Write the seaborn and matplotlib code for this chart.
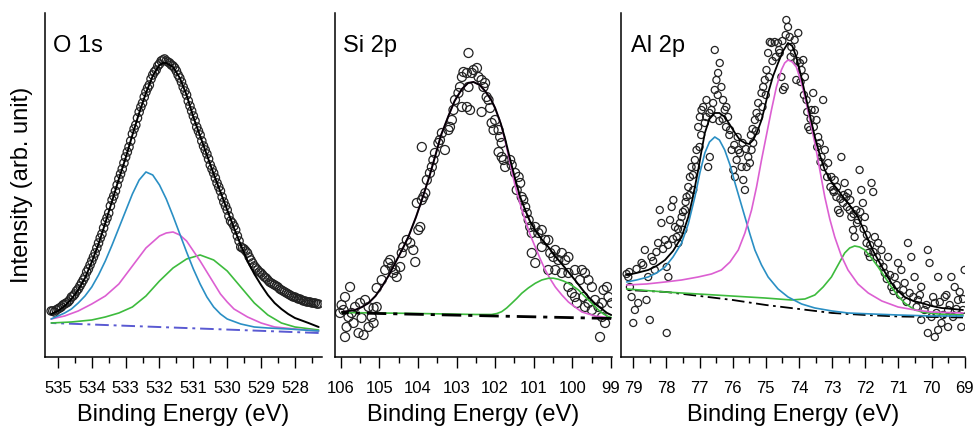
import matplotlib
matplotlib.use("Agg")
import matplotlib.pyplot as plt
import seaborn as sns
from matplotlib.ticker import MultipleLocator

# ---------------- O 1s ----------------
# measured points (binding energy, intensity)
o1s_points = [
    (535.2, 46), (535.1, 45), (535.0, 48), (534.9, 50), (534.8, 53), (534.7, 55), (534.6, 60),
    (534.5, 63), (534.4, 68), (534.3, 74), (534.2, 80), (534.1, 88), (534.0, 96), (533.9, 104),
    (533.8, 114), (533.7, 123), (533.6, 135), (533.5, 144), (533.4, 157), (533.3, 166),
    (533.2, 178), (533.1, 188), (533.0, 200), (532.9, 210), (532.8, 223), (532.7, 232),
    (532.6, 245), (532.5, 254), (532.4, 265), (532.3, 272), (532.2, 282), (532.1, 287),
    (532.0, 293), (531.9, 297), (531.8, 296), (531.7, 294), (531.6, 291), (531.5, 286),
    (531.4, 279), (531.3, 270), (531.2, 262), (531.1, 251), (531.0, 241), (530.9, 230),
    (530.8, 222), (530.7, 211), (530.6, 203), (530.5, 192), (530.4, 184), (530.3, 174),
    (530.2, 166), (530.1, 155), (530.0, 147), (529.9, 136), (529.8, 131), (529.7, 121),
    (529.6, 110), (529.5, 108), (529.4, 104), (529.3, 97), (529.2, 91), (529.1, 87),
    (529.0, 84), (528.9, 80), (528.8, 77), (528.7, 74), (528.6, 72), (528.5, 70), (528.4, 67),
    (528.3, 65), (528.2, 63), (528.1, 61), (528.0, 60), (527.9, 58), (527.8, 57), (527.7, 56),
    (527.6, 55), (527.5, 54), (527.4, 54), (527.3, 53),
    (535.15, 46), (535.05, 47), (534.95, 49), (534.85, 52), (534.75, 54), (534.65, 57),
    (534.55, 61), (534.45, 66), (534.35, 71), (534.25, 77), (534.15, 85), (534.05, 92),
    (533.95, 100), (533.85, 109), (533.75, 119), (533.65, 129), (533.55, 139), (533.45, 151),
    (533.35, 161), (533.25, 172), (533.15, 183), (533.05, 194), (532.95, 205), (532.85, 216),
    (532.75, 228), (532.65, 239), (532.55, 250), (532.45, 260), (532.35, 269), (532.25, 278),
    (532.15, 285), (532.05, 291), (531.95, 296), (531.85, 298), (531.75, 295), (531.65, 292),
    (531.55, 289), (531.45, 282), (531.35, 275), (531.25, 266), (531.15, 256), (531.05, 246),
    (530.95, 236), (530.85, 226), (530.75, 216), (530.65, 207), (530.55, 198), (530.45, 188),
    (530.35, 179), (530.25, 170), (530.15, 160), (530.05, 151), (529.95, 141), (529.85, 134),
    (529.75, 127), (529.65, 116), (529.55, 109), (529.45, 106), (529.35, 100), (529.25, 94),
    (529.15, 89), (529.05, 85), (528.95, 82), (528.85, 79), (528.75, 75), (528.65, 73),
    (528.55, 71), (528.45, 68), (528.35, 66), (528.25, 64), (528.15, 62), (528.05, 60),
    (527.95, 59), (527.85, 58), (527.75, 56), (527.65, 55), (527.55, 55), (527.45, 54),
    (527.35, 53),
]
o1s_envelope = [
    (535.2, 43), (535.0, 46), (534.8, 51), (534.6, 58), (534.4, 67), (534.2, 79), (534.0, 95),
    (533.8, 113), (533.6, 134), (533.4, 156), (533.2, 178), (533.0, 199), (532.8, 222),
    (532.6, 244), (532.4, 264), (532.2, 281), (532.0, 292), (531.9, 294), (531.8, 294),
    (531.6, 290), (531.4, 279), (531.2, 262), (531.0, 240), (530.8, 221), (530.6, 202),
    (530.4, 183), (530.2, 165), (530.0, 147), (529.8, 129), (529.6, 112), (529.4, 96),
    (529.2, 83), (529.0, 72), (528.8, 62), (528.6, 54), (528.4, 48), (528.2, 43), (528.0, 39),
    (527.6, 34), (527.3, 30),
]
o1s_peak_a = [
    (535.2, 38), (535.0, 41), (534.8, 44), (534.6, 48), (534.4, 54), (534.2, 61), (534.0, 70),
    (533.8, 82), (533.6, 96), (533.4, 112), (533.2, 129), (533.0, 146), (532.8, 163),
    (532.6, 177), (532.4, 185), (532.2, 182), (532.0, 172), (531.8, 158), (531.6, 141),
    (531.4, 123), (531.2, 105), (531.0, 88), (530.8, 73), (530.6, 60), (530.4, 50), (530.2, 43),
    (530.0, 38), (529.6, 33), (529.2, 30), (528.8, 29), (528.2, 28), (527.3, 26),
]
o1s_peak_b = [
    (535.2, 38), (534.8, 41), (534.4, 46), (534.0, 53), (533.6, 61), (533.2, 73), (532.8, 91),
    (532.4, 109), (532.0, 121), (531.8, 124), (531.6, 125), (531.4, 122), (531.2, 116),
    (531.0, 106), (530.8, 96), (530.6, 85), (530.4, 74), (530.2, 63), (530.0, 55), (529.8, 48),
    (529.4, 40), (529.0, 34), (528.6, 30), (528.0, 28), (527.3, 26),
]
o1s_peak_c = [
    (535.2, 34), (534.6, 35), (534.0, 37), (533.6, 40), (533.2, 44), (532.8, 50), (532.4, 61),
    (532.0, 76), (531.6, 89), (531.2, 98), (530.8, 102), (530.4, 97), (530.0, 86), (529.6, 70),
    (529.2, 54), (528.8, 42), (528.4, 34), (528.0, 30), (527.3, 27),
]
o1s_background = [(535.2, 34), (527.3, 24)]

# ---------------- Si 2p ----------------
si2p_points = [
    (105.98, 52), (105.89, 60), (105.76, 70), (105.93, 47), (105.80, 40), (105.67, 34),
    (105.54, 24), (105.41, 22), (105.28, 30), (105.15, 34), (105.85, 30), (105.63, 50),
    (105.50, 54), (105.37, 57), (105.28, 50), (105.15, 49), (105.07, 50), (106.02, 44),
    (105.72, 44), (105.46, 39), (105.20, 40), (105.89, 20), (105.07, 69), (104.94, 77),
    (104.85, 87), (104.77, 94), (104.68, 90), (104.59, 87), (104.46, 90), (104.55, 80),
    (104.64, 84), (104.72, 97), (104.38, 110), (104.29, 117), (104.20, 114), (104.12, 107),
    (104.07, 95), (104.42, 104), (103.99, 127), (103.94, 130), (104.03, 154), (103.90, 157),
    (103.86, 160), (103.81, 164), (103.77, 177), (103.69, 184), (103.64, 190), (103.60, 197),
    (103.56, 204), (103.90, 210), (103.47, 214), (103.43, 217), (103.38, 224), (103.30, 207),
    (103.21, 227), (103.17, 230), (103.12, 237), (103.08, 247), (103.04, 257), (102.95, 264),
    (102.91, 270), (102.86, 280), (102.82, 285), (102.73, 284), (102.69, 270), (102.86, 250),
    (102.73, 250), (102.65, 247), (102.69, 304), (102.60, 284), (102.56, 287), (102.47, 289),
    (102.43, 280), (102.35, 277), (102.30, 270), (102.26, 274), (102.22, 260), (102.17, 257),
    (102.35, 245), (102.13, 249), (102.09, 234), (102.04, 227), (102.00, 237), (101.91, 227),
    (101.87, 220), (101.83, 214), (101.91, 205), (101.83, 200), (101.78, 197), (101.74, 190),
    (101.61, 197), (101.57, 192), (101.48, 184), (101.39, 180), (101.44, 167), (101.35, 174),
    (101.31, 160), (101.27, 157), (101.22, 150), (101.18, 144), (101.13, 137), (101.09, 130),
    (101.05, 124), (100.96, 130), (100.88, 124), (100.79, 127), (100.70, 117), (100.62, 117),
    (101.05, 104), (100.96, 94), (100.79, 110), (100.57, 104), (100.49, 100), (100.44, 107),
    (100.36, 97), (100.27, 104), (100.18, 97), (100.10, 100), (100.62, 87), (100.44, 87),
    (100.27, 84), (100.10, 84), (99.93, 87), (100.10, 70), (100.01, 64), (99.93, 60),
    (99.75, 87), (99.67, 84), (99.58, 77), (99.49, 70), (99.80, 77), (99.71, 60), (99.58, 54),
    (99.41, 57), (99.32, 50), (99.23, 54), (99.19, 67), (99.10, 70), (99.06, 60), (98.97, 54),
    (99.23, 40), (99.15, 34), (99.28, 20), (99.49, 47), (99.67, 50), (99.88, 54),
]
si2p_envelope = [
    (105.97, 45), (105.8, 46), (105.63, 47), (105.45, 50), (105.28, 54), (105.1, 61),
    (104.94, 70), (104.75, 82), (104.59, 94), (104.4, 108), (104.25, 120), (104.05, 140),
    (103.9, 157), (103.7, 181), (103.56, 200), (103.4, 222), (103.21, 241), (103.05, 256),
    (102.86, 268), (102.7, 274), (102.56, 275), (102.4, 272), (102.26, 266), (102.1, 257),
    (102.0, 249), (101.85, 233), (101.74, 218), (101.6, 196), (101.48, 178), (101.35, 160),
    (101.22, 147), (101.1, 136), (100.96, 127), (100.8, 118), (100.62, 110), (100.45, 101),
    (100.27, 93), (100.1, 85), (99.93, 77), (99.75, 68), (99.58, 60), (99.4, 53), (99.23, 48),
    (99.1, 44), (98.99, 42),
]
si2p_peak_a = [
    (105.97, 45), (105.8, 46), (105.63, 47), (105.45, 50), (105.28, 54), (105.1, 61),
    (104.94, 70), (104.75, 82), (104.59, 94), (104.4, 108), (104.25, 120), (104.05, 140),
    (103.9, 157), (103.7, 181), (103.56, 200), (103.4, 222), (103.21, 241), (103.05, 256),
    (102.86, 268), (102.7, 274), (102.56, 275), (102.4, 272), (102.26, 266), (102.1, 257),
    (102.0, 249), (101.85, 233), (101.74, 216), (101.6, 192), (101.48, 171), (101.35, 153),
    (101.22, 137), (101.1, 123), (100.96, 110), (100.83, 98), (100.7, 87), (100.57, 78),
    (100.44, 70), (100.27, 62), (100.1, 55), (99.93, 50), (99.75, 45), (99.58, 43),
    (99.41, 41), (99.2, 40), (98.99, 39),
]
si2p_peak_b = [
    (105.97, 44.5), (104.0, 43.5), (102.5, 42.5), (102.09, 42.5), (101.95, 43.5),
    (101.83, 45.3), (101.7, 49), (101.57, 53.7), (101.44, 58.5), (101.31, 63.7), (101.14, 69),
    (100.96, 73.7), (100.79, 77), (100.62, 78.7), (100.49, 78.8), (100.36, 77.7), (100.23, 76),
    (100.1, 73.7), (99.97, 70.5), (99.84, 67), (99.71, 62), (99.58, 57), (99.45, 52),
    (99.32, 47), (99.19, 43), (99.06, 40.3), (98.99, 39.5),
]
si2p_background = [(105.97, 44.3), (98.99, 38.5)]

# ---------------- Al 2p ----------------
al2p_points = [
    (79.15, 80), (79.10, 70), (79.05, 60), (78.95, 47), (79.00, 34), (78.85, 54), (78.75, 94),
    (78.65, 107), (78.60, 57), (78.55, 80), (78.50, 37), (78.45, 100), (78.35, 87),
    (78.25, 114), (78.20, 147), (78.15, 134), (78.04, 117), (77.99, 90), (77.99, 24),
    (77.94, 80), (77.89, 137), (77.84, 150), (77.79, 157), (77.74, 130), (77.69, 120),
    (77.64, 114), (77.59, 134), (77.54, 140), (77.49, 127), (77.44, 147), (77.39, 160),
    (77.34, 170), (77.29, 180), (77.24, 190), (77.19, 167), (77.14, 197), (77.09, 207),
    (77.04, 230), (76.99, 240), (76.94, 247), (76.89, 250), (76.84, 234), (76.79, 257),
    (76.74, 190), (76.69, 200), (76.64, 247), (76.59, 254), (76.54, 267), (76.49, 277),
    (76.44, 284), (76.39, 294), (76.54, 307), (76.34, 270), (76.29, 257), (76.24, 247),
    (76.19, 250), (76.14, 240), (76.08, 227), (76.03, 207), (75.98, 187), (75.93, 180),
    (75.88, 197), (75.83, 207), (75.78, 204), (75.73, 190), (75.68, 177), (75.63, 167),
    (75.58, 190), (75.53, 200), (75.48, 194), (75.43, 207), (75.38, 214), (75.33, 237),
    (75.28, 244), (75.23, 254), (75.13, 264), (75.08, 270), (75.03, 277), (74.98, 287),
    (74.93, 304), (74.88, 315), (74.83, 314), (74.73, 315), (74.63, 314), (74.58, 304),
    (74.53, 280), (74.48, 267), (74.43, 270), (74.38, 337), (74.33, 330), (74.28, 320),
    (74.23, 310), (74.13, 317), (74.08, 277), (74.02, 324), (73.97, 294), (73.92, 287),
    (73.87, 297), (73.82, 280), (73.77, 257), (73.72, 230), (73.67, 227), (73.62, 247),
    (73.57, 264), (73.52, 247), (73.47, 237), (73.42, 220), (73.37, 214), (73.32, 200),
    (73.27, 257), (73.22, 207), (73.12, 194), (73.02, 180), (72.97, 167), (72.92, 177),
    (72.87, 160), (72.82, 147), (72.77, 144), (72.72, 200), (72.67, 154), (72.62, 174),
    (72.57, 160), (72.52, 164), (72.47, 147), (72.42, 140), (72.37, 127), (72.32, 120),
    (72.27, 147), (72.22, 137), (72.17, 187), (72.12, 167), (72.07, 154), (72.01, 140),
    (71.96, 114), (71.91, 104), (71.86, 100), (71.81, 174), (71.76, 165), (71.71, 120),
    (71.61, 114), (71.56, 94), (71.51, 107), (71.41, 84), (71.31, 100), (71.21, 70),
    (71.11, 80), (71.01, 94), (70.91, 87), (70.81, 74), (70.71, 114), (70.66, 64),
    (70.61, 100), (70.51, 80), (70.41, 57), (70.31, 70), (70.21, 47), (70.11, 107),
    (70.06, 94), (70.00, 40), (69.90, 54), (69.80, 80), (69.70, 34), (69.60, 60), (69.50, 47),
    (69.40, 80), (69.30, 70), (69.20, 57), (69.10, 30), (69.05, 47), (69.00, 87), (69.50, 30),
    (69.80, 27), (69.90, 20), (70.11, 24), (70.31, 37),
    (79.20, 83), (79.12, 85), (78.90, 88), (78.70, 92), (78.40, 96), (78.30, 105),
    (78.10, 108), (77.95, 112), (77.80, 118), (77.65, 128), (77.50, 145), (77.42, 155),
    (77.30, 162), (77.20, 182), (77.10, 190), (77.00, 210), (76.95, 222), (76.80, 240),
    (76.70, 244), (76.60, 238), (76.45, 262), (76.40, 236), (76.30, 238), (76.20, 230),
    (76.10, 222), (75.95, 212), (75.85, 220), (75.70, 214), (75.60, 208), (75.45, 222),
    (75.40, 228), (75.30, 226), (75.20, 240), (75.10, 250), (75.00, 262), (74.90, 280),
    (74.80, 296), (74.70, 300), (74.60, 307), (74.50, 316), (74.40, 322), (74.25, 300),
    (74.15, 304), (74.05, 296), (73.95, 275), (73.85, 262), (73.75, 245), (73.65, 238),
    (73.55, 230), (73.45, 210), (73.35, 195), (73.25, 190), (73.15, 180), (73.05, 170),
    (72.95, 165), (72.85, 170), (72.75, 158), (72.65, 162), (72.55, 150), (72.45, 157),
    (72.35, 143), (72.25, 134), (72.15, 145), (72.05, 128), (71.95, 122), (71.85, 112),
    (71.75, 105), (71.65, 100), (71.45, 90), (71.35, 78), (71.25, 82), (71.15, 66),
    (71.05, 72), (70.95, 62), (70.85, 67), (70.75, 55), (70.55, 60), (70.45, 50), (70.35, 62),
    (70.15, 52), (69.95, 60), (69.85, 44), (69.75, 55), (69.65, 42), (69.55, 62), (69.45, 52),
    (69.35, 40), (69.25, 48), (69.15, 65), (69.05, 58),
]
al2p_envelope = [
    (79.2, 82), (78.9, 84), (78.55, 87), (78.3, 91), (78.04, 97), (77.8, 106), (77.54, 120),
    (77.34, 140), (77.2, 160), (77.04, 187), (76.94, 206), (76.84, 224), (76.7, 238),
    (76.54, 244), (76.4, 244), (76.24, 240), (76.1, 233), (75.93, 224), (75.78, 217),
    (75.63, 214), (75.5, 213), (75.38, 217), (75.25, 226), (75.13, 237), (75.03, 250),
    (74.93, 264), (74.78, 281), (74.63, 294), (74.48, 306), (74.33, 314), (74.2, 311),
    (74.08, 300), (73.95, 283), (73.82, 264), (73.67, 242), (73.52, 220), (73.37, 202),
    (73.22, 187), (73.02, 175), (72.82, 167), (72.67, 160), (72.52, 154), (72.37, 147),
    (72.22, 140), (72.07, 129), (71.91, 117), (71.76, 106), (71.61, 97), (71.41, 85),
    (71.21, 74), (71.01, 66), (70.81, 60), (70.55, 56), (70.3, 54), (70.0, 51), (69.7, 49),
    (69.35, 48), (69.05, 47),
]
al2p_peak_a = [
    (79.2, 75), (78.9, 77), (78.55, 80), (78.3, 84), (78.04, 90), (77.8, 100), (77.54, 114),
    (77.34, 133), (77.14, 160), (76.99, 184), (76.84, 204), (76.7, 215), (76.54, 220),
    (76.4, 217), (76.24, 207), (76.08, 192), (75.93, 174), (75.78, 157), (75.63, 140),
    (75.48, 123), (75.33, 107), (75.13, 92), (74.93, 80), (74.63, 68), (74.33, 60),
    (73.92, 53), (73.52, 49), (73.0, 46), (72.52, 44), (71.8, 43), (71.01, 42), (70.0, 41),
    (69.05, 41),
]
al2p_peak_b = [
    (79.2, 72), (78.6, 73), (78.04, 75), (77.54, 77), (77.04, 80), (76.64, 83), (76.34, 87),
    (76.08, 95), (75.83, 107), (75.63, 124), (75.43, 147), (75.28, 170), (75.13, 197),
    (74.98, 222), (74.83, 247), (74.68, 270), (74.53, 287), (74.43, 294), (74.33, 297),
    (74.2, 295), (74.08, 290), (73.95, 277), (73.82, 260), (73.67, 237), (73.52, 214),
    (73.37, 187), (73.22, 160), (73.07, 138), (72.92, 120), (72.72, 101), (72.52, 87),
    (72.22, 73), (71.91, 64), (71.5, 56), (71.01, 50), (70.5, 47), (70.0, 45), (69.05, 44),
]
al2p_peak_c = [
    (79.2, 68), (78.04, 65), (76.54, 62), (75.03, 59), (74.23, 57), (73.82, 58), (73.52, 62),
    (73.27, 70), (73.02, 80), (72.82, 92), (72.62, 104), (72.47, 109), (72.32, 111),
    (72.17, 110), (72.01, 107), (71.81, 99), (71.61, 90), (71.41, 80), (71.21, 70),
    (71.01, 61), (70.81, 54), (70.55, 48), (70.3, 45), (69.8, 43), (69.05, 42),
]
al2p_background = [
    (79.2, 67), (78.0, 65), (77.0, 61), (76.0, 57), (75.0, 52), (74.0, 48), (73.0, 44),
    (72.0, 42), (71.0, 40.5), (70.0, 40), (69.05, 39.5),
]

# panel titles and axis ranges
panel_titles = ["O 1s", "Si 2p", "Al 2p"]
panel_xlims = [(535.38, 527.2), (106.15, 98.97), (79.37, 68.99)]

# colours of the fit components
BLUE = "#2a8fc4"
MAGENTA = "#dc5fd2"
GREEN = "#3dbb3d"
DASHDOT = (0, (7, 2.5, 1.5, 2.5))


def draw_curve(ax, pairs, color, lw, ls="-"):
    # unpack list of (energy, intensity) and draw it as a line
    x, y = zip(*pairs)
    sns.lineplot(x=list(x), y=list(y), ax=ax, color=color, lw=lw, linestyle=ls,
                 estimator=None, sort=True)


def draw_points(ax, pairs, size):
    # open circles for the measured spectrum
    x, y = zip(*pairs)
    sns.scatterplot(x=list(x), y=list(y), ax=ax, s=size, marker="o",
                    fc="none", ec="#222222", linewidth=0.9, zorder=1)


def style_axis(ax, title, xlim):
    # limits, ticks and spines
    ax.set_xlim(*xlim)
    ax.set_ylim(0, 344)
    ax.xaxis.set_major_locator(MultipleLocator(1))
    ax.xaxis.set_minor_locator(MultipleLocator(0.5))
    ax.tick_params(axis="x", which="major", direction="out", length=8, width=1.0,
                   labelsize=12, pad=9, color="black", labelcolor="black")
    ax.tick_params(axis="x", which="minor", direction="out", length=4.5, width=1.0,
                   color="black")
    ax.set_yticks([])
    ax.spines["top"].set_visible(False)
    ax.spines["right"].set_visible(False)
    for side in ["left", "bottom"]:
        ax.spines[side].set_linewidth(1.1)
        ax.spines[side].set_color("black")
    ax.set_xlabel("Binding Energy (eV)", fontsize=17, labelpad=6, color="black")
    ax.set_ylabel("")
    ax.text(0.03, 0.905, title, transform=ax.transAxes, fontsize=17, va="center",
            ha="left", color="black")


def main():
    # set theme, then font (theme resets font family)
    sns.set_theme(style="ticks")
    plt.rcParams["font.family"] = ["Liberation Sans", "DejaVu Sans"]
    plt.rcParams["text.color"] = "black"
    plt.rcParams["axes.labelcolor"] = "black"

    fig = plt.figure(figsize=(9.77, 4.3), dpi=100)
    ax1 = fig.add_axes([0.0461, 0.1698, 0.2835, 0.8])
    ax2 = fig.add_axes([0.3429, 0.1698, 0.2835, 0.8])
    ax3 = fig.add_axes([0.6356, 0.1698, 0.3521, 0.8])

    # O 1s panel
    draw_points(ax1, o1s_points, 36)
    draw_curve(ax1, o1s_background, "#5a5ad2", 1.4, DASHDOT)
    draw_curve(ax1, o1s_peak_c, GREEN, 1.2)
    draw_curve(ax1, o1s_peak_b, MAGENTA, 1.2)
    draw_curve(ax1, o1s_peak_a, BLUE, 1.2)
    draw_curve(ax1, o1s_envelope, "black", 1.4)

    # Si 2p panel
    draw_points(ax2, si2p_points, 42)
    draw_curve(ax2, si2p_peak_a, MAGENTA, 1.2)
    draw_curve(ax2, si2p_peak_b, GREEN, 1.2)
    draw_curve(ax2, si2p_background, "black", 2.0, DASHDOT)
    draw_curve(ax2, si2p_envelope, "black", 1.4)

    # Al 2p panel
    draw_points(ax3, al2p_points, 26)
    draw_curve(ax3, al2p_background, "black", 1.3, DASHDOT)
    draw_curve(ax3, al2p_peak_c, GREEN, 1.2)
    draw_curve(ax3, al2p_peak_a, BLUE, 1.2)
    draw_curve(ax3, al2p_peak_b, MAGENTA, 1.2)
    draw_curve(ax3, al2p_envelope, "black", 1.3)

    for ax, title, xlim in zip([ax1, ax2, ax3], panel_titles, panel_xlims):
        style_axis(ax, title, xlim)

    # shared y label on the first panel
    ax1.set_ylabel("Intensity (arb. unit)", fontsize=17, color="black")
    ax1.yaxis.set_label_coords(-0.045, 0.5)

    fig.savefig("out.png", dpi=100)


if __name__ == "__main__":
    main()
